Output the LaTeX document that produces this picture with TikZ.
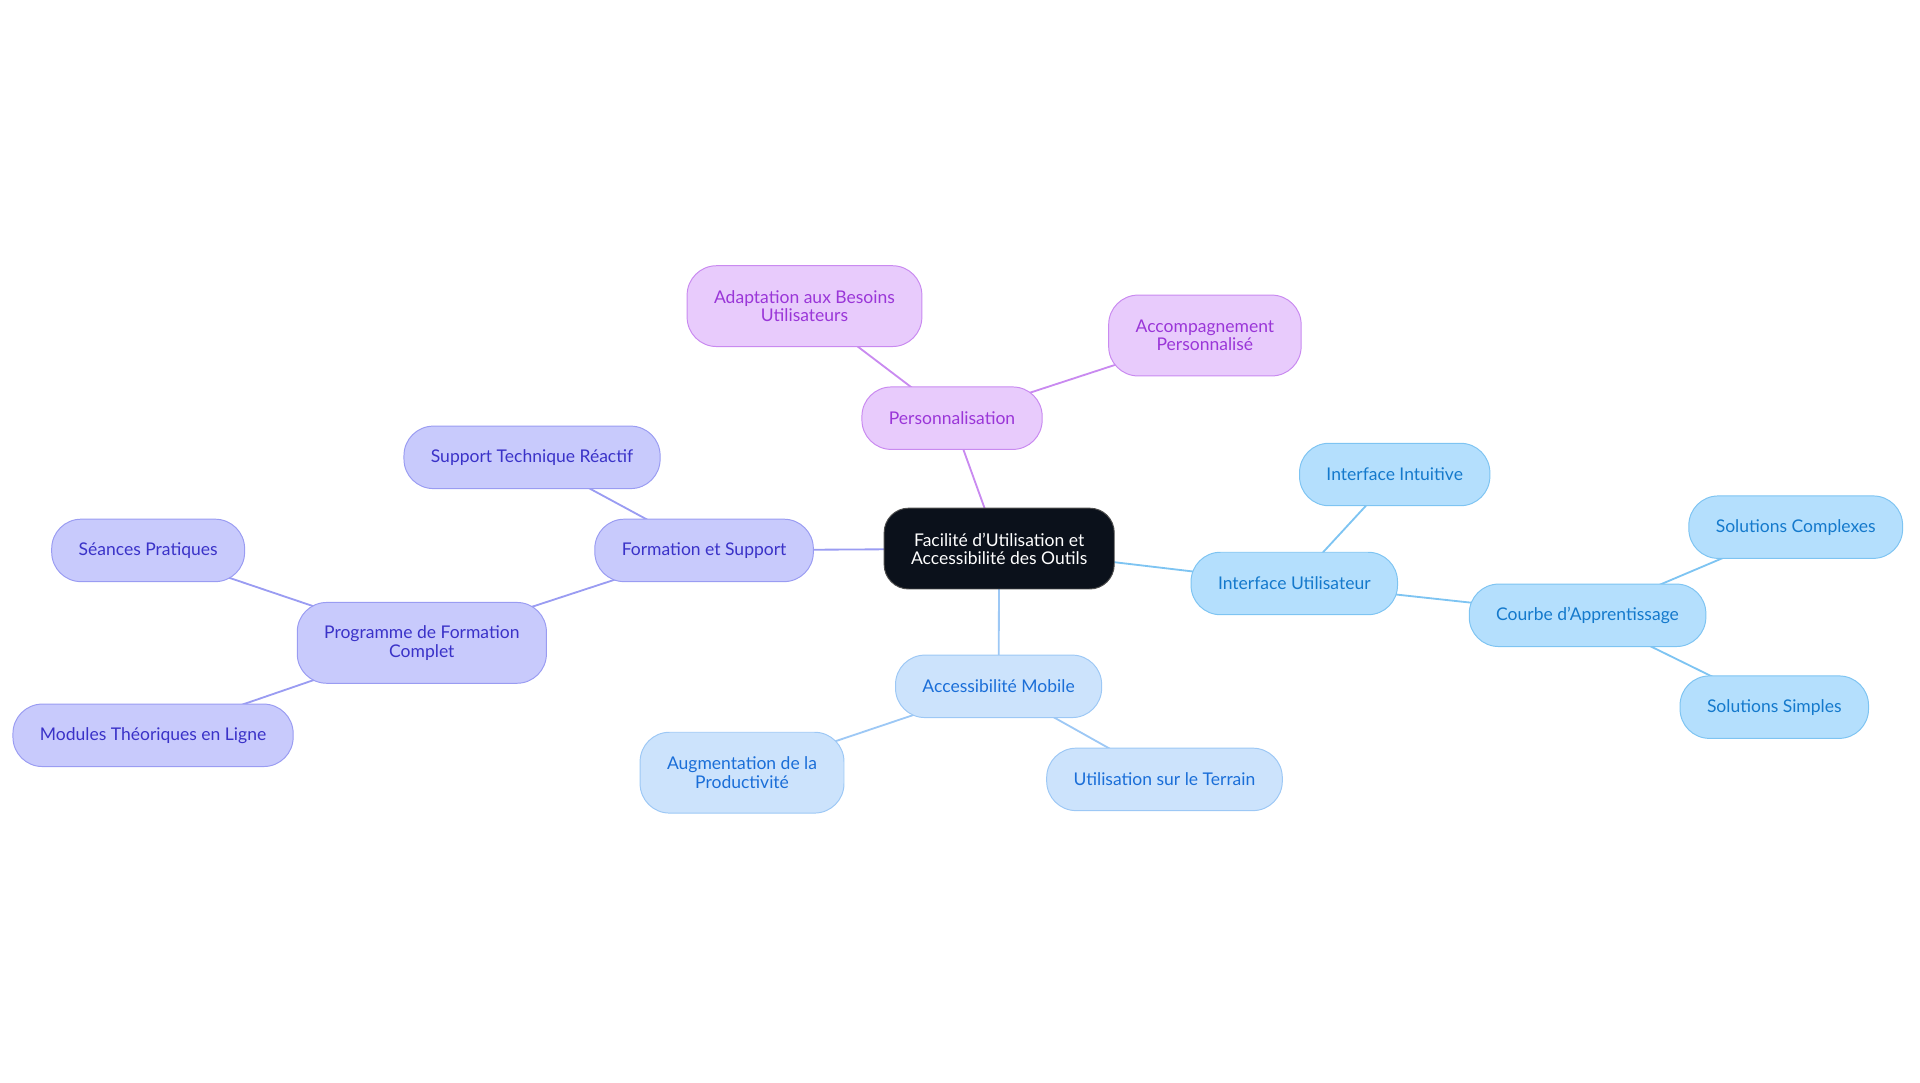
\documentclass[tikz,border=0pt]{standalone}
\usepackage{fontspec}
\setmainfont{Lato}
\usetikzlibrary{positioning, backgrounds}

\definecolor{rootfill}{HTML}{0B111B}
\definecolor{purplefill}{HTML}{E8CBFC}
\definecolor{purpleline}{HTML}{C98AF0}
\definecolor{purpletext}{HTML}{9A36D8}
\definecolor{lavfill}{HTML}{C8CAFC}
\definecolor{lavline}{HTML}{9A9CF2}
\definecolor{lavtext}{HTML}{3A32C8}
\definecolor{palefill}{HTML}{CCE3FC}
\definecolor{paleline}{HTML}{9DC8F5}
\definecolor{paletext}{HTML}{1A6ED8}
\definecolor{skyfill}{HTML}{B4DFFD}
\definecolor{skyline}{HTML}{7EC4F2}
\definecolor{skytext}{HTML}{1479CC}

\begin{document}
\begin{tikzpicture}[x=1pt, y=-1pt,
	box/.style={rounded corners=24pt, minimum height=51pt, inner xsep=22pt, align=center,
		font=\fontsize{14.3}{15}\selectfont, line width=0.8pt},
	rootbox/.style={box, rounded corners=20pt, minimum height=66pt, draw=gray!60!black, fill=rootfill, text=white},
	persobox/.style={box, draw=purpleline, fill=purplefill, text=purpletext},
	formbox/.style={box, draw=lavline, fill=lavfill, text=lavtext},
	mobbox/.style={box, draw=paleline, fill=palefill, text=paletext},
	uibox/.style={box, draw=skyline, fill=skyfill, text=skytext},
	link/.style={line width=1.5pt}
	]
	\useasboundingbox (0,0) rectangle (1568,884);

	% centre
	\node[rootbox] (root) at (816,448) {Facilité d'Utilisation et\\Accessibilité des Outils};

	% personnalisation
	\node[persobox] (perso) at (777.5,341.5) {Personnalisation};
	\node[persobox, minimum height=66pt] (besoins) at (657,250) {Adaptation aux Besoins\\Utilisateurs};
	\node[persobox, minimum height=66pt] (accomp) at (984,274) {Accompagnement\\Personnalisé};

	% formation
	\node[formbox] (form) at (575,449.5) {Formation et Support};
	\node[formbox] (support) at (434.5,373.5) {Support Technique Réactif};
	\node[formbox, minimum height=66pt] (prog) at (344.5,525) {Programme de Formation\\Complet};
	\node[formbox] (seances) at (121,449.5) {Séances Pratiques};
	\node[formbox] (modules) at (125,600.5) {Modules Théoriques en Ligne};

	% mobile
	\node[mobbox] (mobile) at (815.5,560.5) {Accessibilité Mobile};
	\node[mobbox, minimum height=66pt] (prod) at (606,631) {Augmentation de la\\Productivité};
	\node[mobbox] (terrain) at (951,636.5) {Utilisation sur le Terrain};

	% interface
	\node[uibox] (ui) at (1057,476.5) {Interface Utilisateur};
	\node[uibox] (intuitive) at (1139,387.5) {Interface Intuitive};
	\node[uibox] (courbe) at (1296.5,502.5) {Courbe d'Apprentissage};
	\node[uibox] (complexes) at (1466.5,430.5) {Solutions Complexes};
	\node[uibox] (simples) at (1449,577.5) {Solutions Simples};

	% links behind the boxes
	\begin{scope}[on background layer]
		\draw[link, purpleline] (root.center) -- (perso.center);
		\draw[link, purpleline] (perso.center) -- (besoins.center);
		\draw[link, purpleline] (perso.center) -- (accomp.center);

		\draw[link, lavline] (root.center) -- (form.center);
		\draw[link, lavline] (form.center) -- (support.center);
		\draw[link, lavline] (form.center) -- (prog.center);
		\draw[link, lavline] (prog.center) -- (seances.center);
		\draw[link, lavline] (prog.center) -- (modules.center);

		\draw[link, paleline] (root.center) -- (mobile.center);
		\draw[link, paleline] (mobile.center) -- (prod.center);
		\draw[link, paleline] (mobile.center) -- (terrain.center);

		\draw[link, skyline] (root.center) -- (ui.center);
		\draw[link, skyline] (ui.center) -- (intuitive.center);
		\draw[link, skyline] (ui.center) -- (courbe.center);
		\draw[link, skyline] (courbe.center) -- (complexes.center);
		\draw[link, skyline] (courbe.center) -- (simples.center);
	\end{scope}
\end{tikzpicture}
\end{document}
